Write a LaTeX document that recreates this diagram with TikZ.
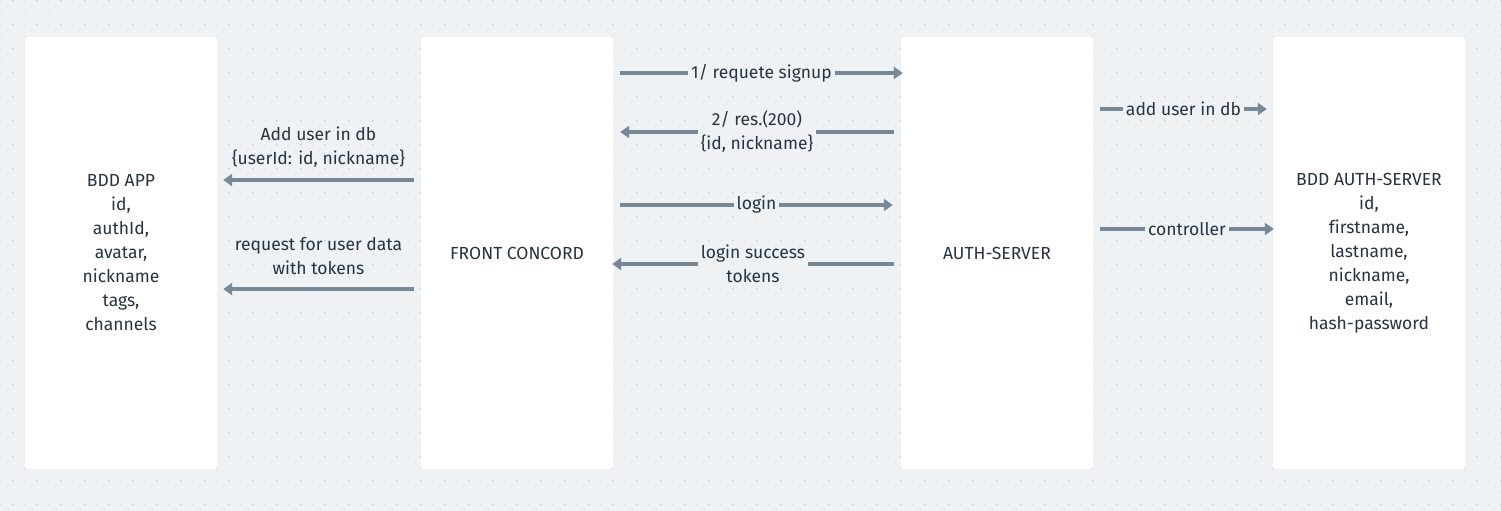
\documentclass[tikz,border=0pt]{standalone}
\usepackage{fontspec}
\setmainfont[Ligatures=NoCommon]{Fira Sans}
\usetikzlibrary{positioning,calc,arrows.meta}
\definecolor{bgcol}{HTML}{EFF2F5}
\definecolor{dotlight}{HTML}{DCE1E7}
\definecolor{dotdark}{HTML}{C3CAD4}
\definecolor{arrowcol}{HTML}{798897}
\definecolor{txtcol}{HTML}{27333E}
\tikzstyle{box}=[fill=white,rounded corners=3pt,minimum width=192pt,minimum height=432pt,align=center,inner sep=0pt,text=txtcol]
\tikzstyle{lbl}=[fill=bgcol,inner sep=3pt,align=center,text=txtcol]
\tikzstyle{toplbl}=[inner sep=3pt,align=center,text=txtcol]

\begin{document}
\begin{tikzpicture}[x=1pt,y=-1pt,font=\fontsize{17.5pt}{24pt}\selectfont]
\useasboundingbox (0,0) rectangle (1501,511);
\fill[bgcol] (0,0) rectangle (1501,511);
% dot grid
\foreach \i in {0,...,125}{
  \foreach \j in {0,...,42}{
    \fill[dotlight] (12*\i+0.7,12*\j+0.7) circle (0.9);
  }
}
\foreach \i in {0,...,62}{
  \foreach \j in {0,...,21}{
    \fill[dotdark] (24*\i+12.7,24*\j+0.7) circle (0.9);
  }
}
% boxes
\node[box] (app) at (121,253) {BDD APP\\id,\\authId,\\avatar,\\nickname\\tags,\\channels};
\node[box] (front) at (517,253) {FRONT CONCORD};
\node[box] (auth) at (997,253) {AUTH-SERVER};
\node[box] (authdb) at (1369,253) {BDD AUTH-SERVER\\id,\\firstname,\\lastname,\\nickname,\\email,\\hash-password};
% rows of the arrows
\coordinate (r1) at (0,73);
\coordinate (r2) at (0,132);
\coordinate (r3) at (0,205);
\coordinate (r4) at (0,264);
\coordinate (r5) at (0,180);
\coordinate (r6) at (0,289);
\coordinate (r7) at (0,109);
\coordinate (r8) at (0,229);
\path[->,color=arrowcol,line width=4.2pt,>={Triangle[length=9pt,width=12pt]}]
($(front.east|-r1)+(7,0)$) edge node[lbl] {1/ requete signup} ($(auth.west|-r1)+(2,0)$)
($(auth.west|-r2)+(-7,0)$) edge node[lbl] {2/ res.(200)\\\{id, nickname\}} ($(front.east|-r2)+(7,0)$)
($(front.east|-r3)+(7,0)$) edge node[lbl] {login} ($(auth.west|-r3)+(-8,0)$)
($(auth.west|-r4)+(-7,0)$) edge node[lbl] {login success\\tokens} ($(front.east|-r4)+(-1,0)$)
($(front.west|-r5)+(-7,0)$) edge node[toplbl,above=7pt] {Add user in db\\\{userId: id, nickname\}} ($(app.east|-r5)+(6,0)$)
($(front.west|-r6)+(-7,0)$) edge node[toplbl,above=9pt] {request for user data\\with tokens} ($(app.east|-r6)+(6,0)$)
($(auth.east|-r7)+(7,0)$) edge node[lbl] {add user in db} ($(authdb.west|-r7)+(-6,0)$)
($(auth.east|-r8)+(7,0)$) edge node[lbl] {controller} ($(authdb.west|-r8)+(1,0)$);
\end{tikzpicture}
\end{document}
